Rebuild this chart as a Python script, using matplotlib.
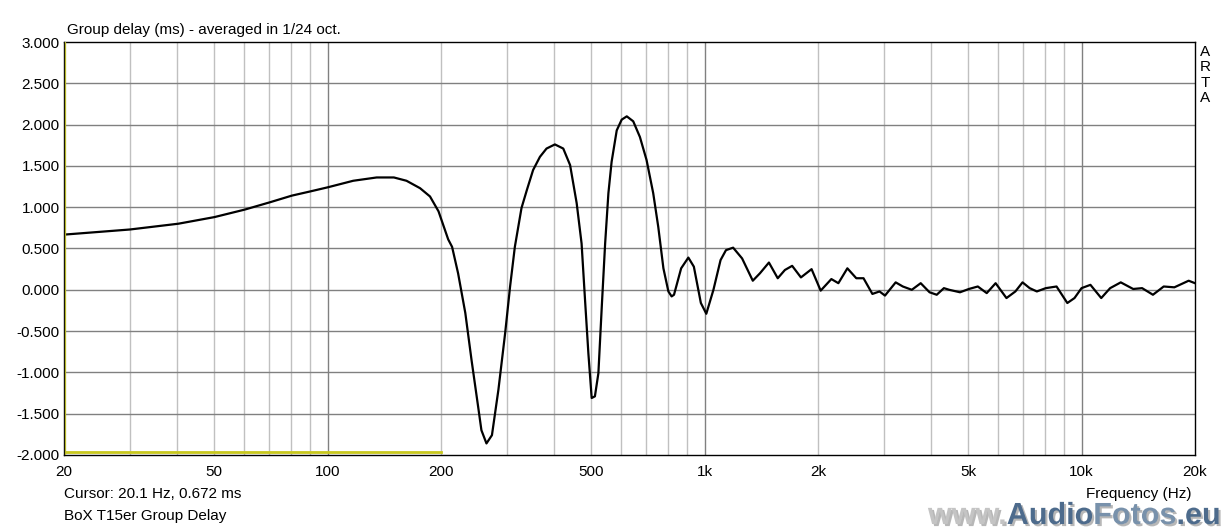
import matplotlib.pyplot as plt
import matplotlib.patheffects as pe
from matplotlib.ticker import FixedLocator, NullFormatter

# group delay (Hz, ms)
freq = [20, 29.9, 40.2, 50.1, 60.2, 70.4, 80.4, 89.8, 100, 117, 135, 150, 162,
        176, 187, 197, 209, 214, 222, 232, 241, 251, 256, 264, 273, 284, 296,
        305, 314, 327, 338, 351, 366, 381, 401, 422, 440, 458, 472, 482, 492,
        502, 512, 523, 534, 545, 556, 567, 585, 603, 622, 647, 674, 702, 731,
        754, 778, 802, 818, 830, 867, 906, 937, 978, 1011, 1056, 1103, 1140,
        1191, 1258, 1343, 1403, 1482, 1564, 1634, 1708, 1802, 1923, 2033, 2170,
        2265, 2393, 2527, 2641, 2788, 2912, 3011, 3214, 3358, 3547, 3745, 3953,
        4130, 4315, 4458, 4761, 5027, 5308, 5605, 5918, 6323, 6677, 6975, 7287,
        7612, 8039, 8586, 9170, 9580, 10000, 10560, 11280, 11910, 12710, 13710,
        14480, 15470, 16520, 17630, 19240, 20000]
gd = [0.668, 0.73, 0.80, 0.88, 0.97, 1.06, 1.14, 1.19, 1.24, 1.32, 1.36, 1.36,
      1.32, 1.23, 1.13, 0.95, 0.61, 0.52, 0.20, -0.28, -0.85, -1.42, -1.70,
      -1.86, -1.76, -1.21, -0.52, 0.04, 0.52, 0.99, 1.21, 1.45, 1.61, 1.71,
      1.76, 1.71, 1.51, 1.05, 0.56, -0.12, -0.77, -1.31, -1.29, -1.01, -0.20,
      0.56, 1.17, 1.55, 1.93, 2.06, 2.10, 2.04, 1.85, 1.57, 1.17, 0.76, 0.26,
      -0.02, -0.08, -0.06, 0.26, 0.39, 0.28, -0.16, -0.29, 0.0, 0.36, 0.48,
      0.51, 0.38, 0.11, 0.20, 0.33, 0.14, 0.24, 0.29, 0.15, 0.25, -0.01, 0.13,
      0.08, 0.26, 0.14, 0.14, -0.05, -0.02, -0.07, 0.09, 0.04, 0.0, 0.08,
      -0.03, -0.06, 0.02, 0.0, -0.03, 0.01, 0.04, -0.04, 0.08, -0.10, -0.02,
      0.09, 0.02, -0.02, 0.02, 0.04, -0.16, -0.10, 0.02, 0.06, -0.10, 0.02,
      0.09, 0.01, 0.02, -0.06, 0.04, 0.03, 0.11, 0.08]

marker_freq = [20, 200]
marker_gd = [-1.96, -1.96]
cursor_f = 20.1

xticks = [20, 50, 100, 200, 500, 1000, 2000, 5000, 10000, 20000]
xlabels = ['20', '50', '100', '200', '500', '1k', '2k', '5k', '10k', '20k']
yticks = [-2.0, -1.5, -1.0, -0.5, 0.0, 0.5, 1.0, 1.5, 2.0, 2.5, 3.0]

plt.rcParams['font.family'] = ['Liberation Sans', 'DejaVu Sans']
plt.rcParams['font.size'] = 11

W, H = 1231, 532
fig = plt.figure(figsize=(W / 100, H / 100), dpi=100)
ax = fig.add_axes([64 / W, 1 - 455 / H, (1195 - 64) / W, (455 - 42) / H])

ax.set_xscale('log')
ax.set_xlim(20, 20000)
ax.set_ylim(-2, 3)

# grid: light minors, darker decades / y lines
minors = [m * d for d in (10, 100, 1000) for m in range(2, 10)]
minors = [v for v in minors if 20 < v < 20000]
for v in minors:
    ax.axvline(v, color='#c0c0c0', lw=1, zorder=1)
for v in (100, 1000, 10000):
    ax.axvline(v, color='#808080', lw=1, zorder=1)
for v in yticks[1:-1]:
    ax.axhline(v, color='#808080', lw=1, zorder=1)

ax.plot(marker_freq, marker_gd, color='#c8c81e', lw=2, zorder=2)
ax.axvline(cursor_f, color='#b4b428', lw=0.9, zorder=4)
ax.plot(freq, gd, color='black', lw=1.6, zorder=3)

ax.xaxis.set_major_locator(FixedLocator(xticks))
ax.set_xticklabels(xlabels)
ax.xaxis.set_minor_formatter(NullFormatter())
ax.set_yticks(yticks)
ax.set_yticklabels(['%.3f' % v for v in yticks])
ax.tick_params(which='both', length=0)
ax.tick_params(axis='x', pad=7)
ax.tick_params(axis='y', pad=3)
for s in ax.spines.values():
    s.set_color('black')
    s.set_linewidth(1)

fig.text(67 / W, 1 - 30 / H, 'Group delay (ms) - averaged in 1/24 oct.', va='center', ha='left')
fig.text(64 / W, 1 - 494 / H, 'Cursor: 20.1 Hz, 0.672 ms', va='center', ha='left')
fig.text(64 / W, 1 - 516 / H, 'BoX T15er Group Delay', va='center', ha='left')
fig.text(1192 / W, 1 - 494 / H, 'Frequency (Hz)', va='center', ha='right')
fig.text(1205 / W, 1 - 45 / H, 'A\nR\nT\nA', va='top', ha='center', linespacing=1.12)

# watermark, pieces chained one after another
shadow = [pe.withSimplePatchShadow(offset=(1.5, -1.5), shadow_rgbFace='#888888', alpha=0.6)]
prev = fig.text(928 / W, 1 - 531 / H, 'www.', fontsize=22, fontweight='bold',
                color='#c4c4c4', va='bottom', ha='left', path_effects=shadow)
for piece, col in [('Audio', '#4d6b8c'), ('Fotos', '#7891ab'), ('.eu', '#4d6b8c')]:
    prev = ax.annotate(piece, xy=(1, 0), xycoords=prev, va='bottom', ha='left',
                       fontsize=22, fontweight='bold', color=col,
                       path_effects=shadow, annotation_clip=False)

fig.savefig('out.png', dpi=100)
